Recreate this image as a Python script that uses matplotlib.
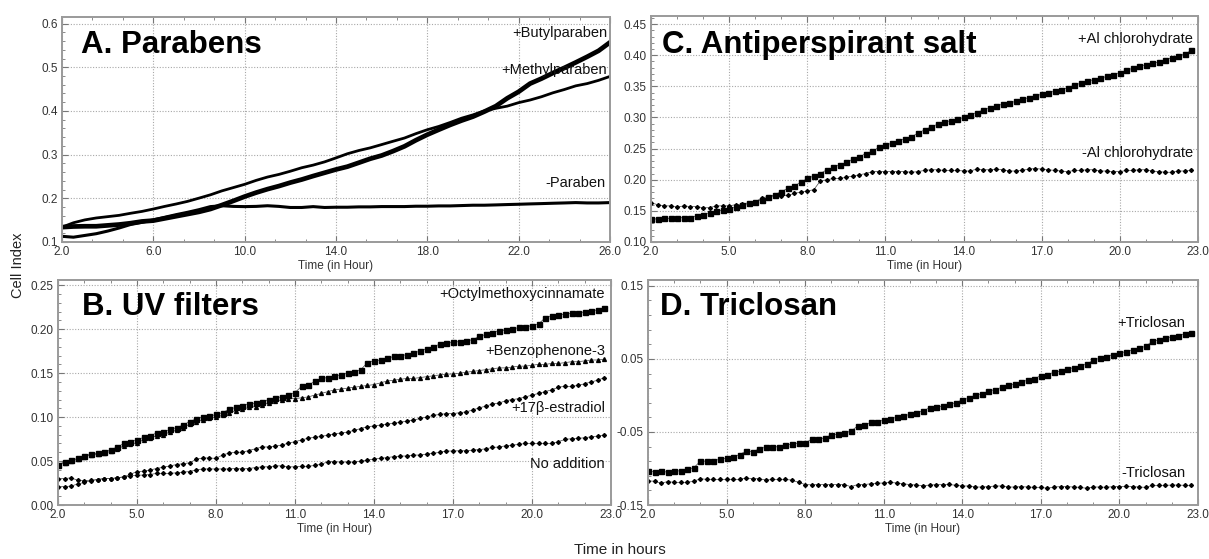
import numpy as np
import matplotlib
matplotlib.use("Agg")
import matplotlib.pyplot as plt
from matplotlib.ticker import AutoMinorLocator, FormatStrFormatter

# ---------------- data ----------------
# Panel A (continuous traces, sampled every 0.5 h)
hours_a = np.arange(2.0, 26.01, 0.5)
butylparaben = [0.134, 0.1355, 0.136, 0.136, 0.138, 0.140, 0.143, 0.147, 0.149, 0.154,
                0.159, 0.164, 0.169, 0.1755, 0.1845, 0.194, 0.204, 0.213, 0.221, 0.228,
                0.236, 0.243, 0.251, 0.2585, 0.266, 0.2725, 0.2815, 0.2906, 0.298, 0.308,
                0.319, 0.333, 0.3457, 0.357, 0.368, 0.378, 0.387, 0.3985, 0.411, 0.429,
                0.444, 0.4626, 0.474, 0.4868, 0.4985, 0.511, 0.524, 0.5377, 0.557]
methylparaben = [0.134, 0.144, 0.1506, 0.155, 0.158, 0.161, 0.1657, 0.170, 0.1755, 0.1815,
                 0.187, 0.193, 0.2004, 0.208, 0.217, 0.2245, 0.232, 0.241, 0.2487, 0.2547,
                 0.262, 0.270, 0.276, 0.2834, 0.2925, 0.302, 0.3094, 0.3155, 0.323, 0.3306,
                 0.338, 0.348, 0.357, 0.3645, 0.3736, 0.3834, 0.391, 0.400, 0.406, 0.411,
                 0.419, 0.425, 0.4325, 0.4415, 0.449, 0.4574, 0.4626, 0.470, 0.479]
no_paraben = [0.113, 0.111, 0.115, 0.119, 0.125, 0.132, 0.140, 0.145, 0.1506, 0.1566,
              0.1626, 0.168, 0.174, 0.181, 0.183, 0.1815, 0.181, 0.1815, 0.183, 0.1815,
              0.179, 0.179, 0.181, 0.179, 0.1796, 0.1796, 0.1804, 0.1804, 0.1811, 0.1811,
              0.1811, 0.1819, 0.1819, 0.1826, 0.1826, 0.1834, 0.1842, 0.1842, 0.1849, 0.1857,
              0.1864, 0.1872, 0.1879, 0.1887, 0.1894, 0.1902, 0.1894, 0.1894, 0.1902]

# Panels B, C, D (readings every 0.25 h)
hours = np.arange(2.0, 22.76, 0.25)

al_plus = [0.137, 0.137, 0.138, 0.138, 0.139, 0.139, 0.139, 0.142, 0.144, 0.147,
           0.149, 0.151, 0.153, 0.156, 0.159, 0.162, 0.164, 0.168, 0.172, 0.176,
           0.181, 0.186, 0.190, 0.196, 0.202, 0.206, 0.210, 0.216, 0.220, 0.224,
           0.228, 0.233, 0.237, 0.242, 0.246, 0.252, 0.255, 0.259, 0.262, 0.266,
           0.269, 0.275, 0.280, 0.285, 0.289, 0.292, 0.295, 0.297, 0.300, 0.304,
           0.308, 0.312, 0.315, 0.319, 0.321, 0.323, 0.326, 0.329, 0.332, 0.335,
           0.337, 0.340, 0.342, 0.344, 0.348, 0.352, 0.355, 0.358, 0.361, 0.363,
           0.366, 0.369, 0.372, 0.376, 0.379, 0.382, 0.385, 0.387, 0.389, 0.393,
           0.396, 0.399, 0.402, 0.408]
al_minus = [0.163, 0.160, 0.158, 0.158, 0.156, 0.158, 0.157, 0.157, 0.155, 0.155,
            0.158, 0.158, 0.158, 0.160, 0.161, 0.163, 0.164, 0.171, 0.173, 0.174,
            0.174, 0.175, 0.178, 0.180, 0.182, 0.184, 0.198, 0.200, 0.202, 0.202,
            0.204, 0.206, 0.208, 0.210, 0.213, 0.213, 0.213, 0.213, 0.213, 0.213,
            0.212, 0.213, 0.215, 0.216, 0.216, 0.215, 0.215, 0.215, 0.214, 0.214,
            0.217, 0.216, 0.216, 0.217, 0.216, 0.214, 0.214, 0.215, 0.217, 0.218,
            0.217, 0.216, 0.215, 0.214, 0.213, 0.215, 0.215, 0.216, 0.216, 0.214,
            0.214, 0.213, 0.213, 0.215, 0.215, 0.216, 0.216, 0.214, 0.213, 0.212,
            0.212, 0.214, 0.214, 0.215]

octyl = [0.046, 0.049, 0.051, 0.053, 0.056, 0.058, 0.059, 0.060, 0.063, 0.066,
         0.070, 0.072, 0.074, 0.077, 0.079, 0.082, 0.083, 0.086, 0.088, 0.091,
         0.095, 0.098, 0.100, 0.101, 0.103, 0.105, 0.109, 0.111, 0.113, 0.115,
         0.116, 0.117, 0.120, 0.122, 0.123, 0.125, 0.128, 0.135, 0.136, 0.141,
         0.144, 0.145, 0.147, 0.148, 0.150, 0.151, 0.154, 0.162, 0.164, 0.165,
         0.167, 0.169, 0.170, 0.171, 0.173, 0.175, 0.178, 0.180, 0.183, 0.184,
         0.185, 0.186, 0.187, 0.188, 0.192, 0.194, 0.196, 0.198, 0.199, 0.200,
         0.202, 0.203, 0.204, 0.206, 0.213, 0.215, 0.216, 0.217, 0.218, 0.218,
         0.220, 0.221, 0.222, 0.224]
benzophenone = [0.046, 0.048, 0.050, 0.052, 0.055, 0.057, 0.058, 0.059, 0.061, 0.064,
                0.067, 0.069, 0.071, 0.074, 0.076, 0.079, 0.080, 0.083, 0.085, 0.088,
                0.092, 0.095, 0.097, 0.099, 0.100, 0.102, 0.105, 0.107, 0.109, 0.111,
                0.112, 0.114, 0.116, 0.118, 0.119, 0.121, 0.121, 0.122, 0.123, 0.125,
                0.127, 0.129, 0.131, 0.132, 0.133, 0.134, 0.135, 0.136, 0.137, 0.139,
                0.141, 0.142, 0.143, 0.144, 0.144, 0.145, 0.146, 0.147, 0.148, 0.149,
                0.149, 0.150, 0.151, 0.152, 0.153, 0.154, 0.155, 0.156, 0.156, 0.157,
                0.158, 0.158, 0.159, 0.160, 0.160, 0.161, 0.161, 0.162, 0.163, 0.163,
                0.164, 0.165, 0.165, 0.166]
estradiol = [0.030, 0.030, 0.031, 0.028, 0.0275, 0.028, 0.029, 0.030, 0.030, 0.031,
             0.032, 0.035, 0.038, 0.0385, 0.040, 0.0415, 0.043, 0.0445, 0.046, 0.047,
             0.048, 0.052, 0.0535, 0.0535, 0.053, 0.057, 0.059, 0.060, 0.060, 0.062,
             0.064, 0.066, 0.066, 0.067, 0.068, 0.0705, 0.072, 0.074, 0.076, 0.077,
             0.078, 0.0795, 0.081, 0.082, 0.083, 0.085, 0.087, 0.089, 0.090, 0.091,
             0.092, 0.093, 0.094, 0.0955, 0.0966, 0.0985, 0.100, 0.102, 0.103, 0.104,
             0.104, 0.105, 0.106, 0.108, 0.1106, 0.1125, 0.115, 0.116, 0.1186, 0.120,
             0.121, 0.123, 0.125, 0.127, 0.129, 0.131, 0.134, 0.135, 0.135, 0.136,
             0.138, 0.140, 0.142, 0.145]
no_addition = [0.021, 0.021, 0.0215, 0.024, 0.0257, 0.0275, 0.029, 0.030, 0.030, 0.031,
               0.032, 0.033, 0.034, 0.034, 0.0347, 0.036, 0.036, 0.036, 0.0366, 0.0374,
               0.038, 0.040, 0.041, 0.041, 0.041, 0.041, 0.041, 0.0415, 0.041, 0.0415,
               0.0426, 0.0434, 0.0434, 0.0445, 0.0445, 0.0434, 0.0434, 0.044, 0.044, 0.045,
               0.0464, 0.0492, 0.0492, 0.0489, 0.0489, 0.0489, 0.050, 0.051, 0.0523, 0.053,
               0.054, 0.055, 0.0557, 0.0557, 0.0568, 0.0568, 0.058, 0.0587, 0.060, 0.0614,
               0.0614, 0.0617, 0.0617, 0.0625, 0.063, 0.064, 0.0655, 0.066, 0.0674, 0.068,
               0.069, 0.070, 0.070, 0.070, 0.070, 0.070, 0.072, 0.0746, 0.0754, 0.0758,
               0.0765, 0.0777, 0.0784, 0.0795]

triclosan_plus = [-0.103, -0.105, -0.104, -0.105, -0.104, -0.103, -0.101, -0.099, -0.090, -0.090,
                  -0.090, -0.087, -0.086, -0.084, -0.081, -0.076, -0.077, -0.073, -0.071, -0.071,
                  -0.070, -0.068, -0.067, -0.065, -0.065, -0.060, -0.060, -0.058, -0.054, -0.053,
                  -0.051, -0.049, -0.042, -0.041, -0.037, -0.036, -0.034, -0.032, -0.030, -0.028,
                  -0.026, -0.024, -0.021, -0.017, -0.016, -0.015, -0.012, -0.010, -0.006, -0.004,
                  0.001, 0.002, 0.006, 0.008, 0.011, 0.014, 0.015, 0.018, 0.021, 0.023,
                  0.027, 0.028, 0.032, 0.033, 0.036, 0.038, 0.040, 0.043, 0.048, 0.051,
                  0.053, 0.056, 0.058, 0.060, 0.062, 0.065, 0.067, 0.074, 0.076, 0.079,
                  0.080, 0.082, 0.084, 0.086]
triclosan_minus = [-0.117, -0.1175, -0.120, -0.118, -0.119, -0.119, -0.119, -0.1175, -0.114, -0.115,
                   -0.115, -0.115, -0.115, -0.115, -0.115, -0.113, -0.114, -0.114, -0.116, -0.115,
                   -0.115, -0.115, -0.116, -0.119, -0.122, -0.1225, -0.122, -0.122, -0.122, -0.122,
                   -0.122, -0.125, -0.122, -0.122, -0.121, -0.120, -0.120, -0.119, -0.120, -0.121,
                   -0.122, -0.1227, -0.1236, -0.1227, -0.1222, -0.1222, -0.1218, -0.1231, -0.124, -0.124,
                   -0.1254, -0.1254, -0.1249, -0.124, -0.124, -0.1254, -0.1254, -0.1249, -0.1254, -0.1258,
                   -0.1258, -0.1272, -0.1254, -0.1249, -0.1249, -0.1254, -0.1258, -0.1272, -0.1254, -0.1254,
                   -0.1258, -0.1249, -0.1249, -0.1245, -0.1249, -0.1254, -0.1258, -0.1231, -0.1231, -0.1231,
                   -0.1227, -0.1227, -0.1231, -0.1231]

# tick values
xticks_a = [2.0, 6.0, 10.0, 14.0, 18.0, 22.0, 26.0]
xticks_bcd = [2.0, 5.0, 8.0, 11.0, 14.0, 17.0, 20.0, 23.0]
yticks_a = [0.1, 0.2, 0.3, 0.4, 0.5, 0.6]
yticks_c = [0.10, 0.15, 0.20, 0.25, 0.30, 0.35, 0.40, 0.45]
yticks_b = [0.00, 0.05, 0.10, 0.15, 0.20, 0.25]
yticks_d = [-0.15, -0.05, 0.05, 0.15]

# ---------------- figure ----------------
W, H = 1209, 559
fig = plt.figure(figsize=(W / 100, H / 100), dpi=100)

SANS = ["Liberation Sans", "DejaVu Sans"]
NARROW = ["Liberation Sans Narrow", "Liberation Sans", "DejaVu Sans"]


def box(l, r, t, b):
    return [l / W, 1 - b / H, (r - l) / W, (b - t) / H]


def fxy(px, py):
    return px / W, 1 - py / H


def style(ax, xt, yt, ylim, yfmt):
    ax.set_xlim(xt[0], xt[-1])
    ax.set_ylim(*ylim)
    ax.set_xticks(xt)
    ax.set_yticks(yt)
    ax.xaxis.set_minor_locator(AutoMinorLocator(3))
    ax.yaxis.set_minor_locator(AutoMinorLocator(5))
    ax.xaxis.set_major_formatter(FormatStrFormatter("%.1f"))
    ax.yaxis.set_major_formatter(FormatStrFormatter(yfmt))
    ax.grid(True, which="major", linestyle=(0, (1, 1.5)), color="#a8a8a8", lw=0.8)
    ax.set_axisbelow(True)
    for s in ax.spines.values():
        s.set_color("#9a9a9a")
        s.set_linewidth(1.4)
    ax.tick_params(which="both", direction="in", top=True, right=False,
                   colors="#777777", labelcolor="#333333", labelsize=8.5, pad=3)
    ax.tick_params(which="major", length=4)
    ax.tick_params(which="minor", length=2.5)
    for lab in ax.get_xticklabels() + ax.get_yticklabels():
        lab.set_family(NARROW)
    ax.set_xlabel("Time (in Hour)", family=NARROW, fontsize=8.5, color="#333333", labelpad=1)


LINE = "#444444"
SMALL = dict(color=LINE, lw=0.5, marker="D", ms=2.0, mfc="black", mec="black")
SQUARE = dict(color=LINE, lw=0.5, marker="s", ms=3.6, mfc="black", mec="black")
TRI = dict(color=LINE, lw=0.5, marker="^", ms=2.8, mfc="black", mec="black")

# boxes (pixel coords)
axA = fig.add_axes(box(62, 610, 17, 242))
axC = fig.add_axes(box(651, 1198, 16, 242))
axB = fig.add_axes(box(58, 611, 280, 505))
axD = fig.add_axes(box(648, 1198, 280, 505))

# Panel A
axA.plot(hours_a, no_paraben, color="black", lw=2.2, solid_capstyle="round")
axA.plot(hours_a, methylparaben, color="black", lw=2.0, solid_capstyle="round")
axA.plot(hours_a, butylparaben, color="black", lw=3.4, solid_capstyle="round")
style(axA, xticks_a, yticks_a, (0.1, 0.615), "%.1f")

# Panel C
axC.plot(hours, al_minus, **SMALL)
axC.plot(hours, al_plus, **SQUARE)
style(axC, xticks_bcd, yticks_c, (0.10, 0.463), "%.2f")

# Panel B
axB.plot(hours, no_addition, **SMALL)
axB.plot(hours, estradiol, **SMALL)
axB.plot(hours, benzophenone, **TRI)
axB.plot(hours, octyl, **SQUARE)
style(axB, xticks_bcd, yticks_b, (0.0, 0.256), "%.2f")

# Panel D
axD.plot(hours, triclosan_minus, **SMALL)
axD.plot(hours, triclosan_plus, **SQUARE)
style(axD, xticks_bcd, yticks_d, (-0.15, 0.158), "%.2f")

# panel titles
TITLE_KW = dict(family=SANS, fontsize=22.5, fontweight="bold", ha="left", va="baseline")
fig.text(*fxy(81, 53), "A. Parabens", **TITLE_KW)
fig.text(*fxy(662, 53), "C. Antiperspirant salt", **TITLE_KW)
fig.text(*fxy(82, 315), "B. UV filters", **TITLE_KW)
fig.text(*fxy(660, 315), "D. Triclosan", **TITLE_KW)

# curve labels
LAB_KW = dict(family=SANS, fontsize=10.5, ha="right", va="baseline", color="#111111")
fig.text(*fxy(607, 37), "+Butylparaben", **LAB_KW)
fig.text(*fxy(607, 74), "+Methylparaben", **LAB_KW)
fig.text(*fxy(606, 187), "-Paraben", **LAB_KW)
fig.text(*fxy(1193, 43), "+Al chlorohydrate", **LAB_KW)
fig.text(*fxy(1193, 157), "-Al chlorohydrate", **LAB_KW)
fig.text(*fxy(605, 298), "+Octylmethoxycinnamate", **LAB_KW)
fig.text(*fxy(605, 355), "+Benzophenone-3", **LAB_KW)
fig.text(*fxy(605, 412), "+17\u03b2-estradiol", **LAB_KW)
fig.text(*fxy(605, 468), "No addition", **LAB_KW)
fig.text(*fxy(1185, 327), "+Triclosan", **LAB_KW)
fig.text(*fxy(1185, 477), "-Triclosan", **LAB_KW)

# shared labels
fig.text(*fxy(18, 265), "Cell Index", family=SANS, fontsize=10.5, rotation=90,
         ha="center", va="center", color="#222222")
fig.text(*fxy(620, 550), "Time in hours", family=SANS, fontsize=11,
         ha="center", va="center", color="#222222")

fig.savefig("out.png", dpi=100)
